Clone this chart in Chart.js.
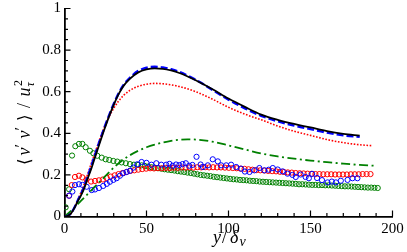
<!DOCTYPE html>
<html>
<head>
<meta charset="utf-8">
<script src="https://cdn.jsdelivr.net/npm/chart.js@4.4.0/dist/chart.umd.min.js"></script>
<style>
  html, body { margin: 0; padding: 0; background: #fff; }
  #wrap { width: 407px; height: 252px; }
</style>
</head>
<body>
<div id="wrap"><canvas id="c" width="407" height="252"></canvas></div>
<script>
// --- ticks ---
const xTicks = [0, 50, 100, 150, 200];
const xMinor = [10, 20, 30, 40, 60, 70, 80, 90, 110, 120, 130, 140, 160, 170, 180, 190];
const yTicks = [0, 0.2, 0.4, 0.6, 0.8, 1];
const yMinor = [0.05, 0.1, 0.15, 0.25, 0.3, 0.35, 0.45, 0.5, 0.55, 0.65, 0.7, 0.75, 0.85, 0.9, 0.95];

// --- lines ---
const blackX = [0, 2, 4, 6, 8, 10, 12, 14, 16, 18, 20, 22, 24, 26, 28, 30, 33, 36, 40, 45, 50, 55, 60, 65, 70, 80, 90, 100, 110, 120, 130, 140, 150, 160, 170, 180];
const blackY = [0, 0.003, 0.015, 0.04, 0.072, 0.1, 0.135, 0.18, 0.222, 0.27, 0.318, 0.366, 0.412, 0.456, 0.498, 0.537, 0.588, 0.628, 0.663, 0.693, 0.707, 0.712, 0.71, 0.702, 0.69, 0.655, 0.613, 0.567, 0.527, 0.49, 0.465, 0.445, 0.428, 0.41, 0.397, 0.389];

const blueX = [0, 2, 4, 6, 8, 10, 12, 14, 16, 18, 20, 22, 24, 26, 28, 30, 33, 36, 40, 45, 50, 55, 60, 65, 70, 80, 90, 100, 110, 120, 130, 140, 150, 160, 170, 180];
const blueY = [0, 0.003, 0.016, 0.042, 0.076, 0.108, 0.145, 0.19, 0.234, 0.282, 0.33, 0.376, 0.42, 0.463, 0.503, 0.541, 0.592, 0.632, 0.668, 0.7, 0.715, 0.72, 0.717, 0.708, 0.695, 0.657, 0.61, 0.562, 0.52, 0.484, 0.458, 0.437, 0.42, 0.403, 0.39, 0.383];

const redLineX = [0, 2, 4, 6, 8, 10, 12, 14, 16, 18, 20, 22, 24, 26, 28, 30, 33, 36, 40, 45, 50, 55, 60, 65, 70, 80, 90, 100, 110, 120, 130, 140, 150, 160, 170, 180, 188];
const redLineY = [0, 0.003, 0.015, 0.042, 0.078, 0.115, 0.155, 0.2, 0.247, 0.293, 0.338, 0.382, 0.423, 0.46, 0.492, 0.52, 0.555, 0.582, 0.607, 0.626, 0.636, 0.64, 0.638, 0.633, 0.625, 0.6, 0.565, 0.525, 0.492, 0.465, 0.435, 0.41, 0.39, 0.37, 0.355, 0.345, 0.34];

const greenLineX = [0, 5, 10, 15, 20, 25, 30, 35, 40, 45, 50, 55, 60, 65, 70, 75, 80, 90, 100, 110, 120, 130, 140, 150, 160, 170, 180, 190];
const greenLineY = [0, 0.035, 0.075, 0.115, 0.155, 0.195, 0.235, 0.268, 0.295, 0.316, 0.333, 0.346, 0.356, 0.364, 0.369, 0.371, 0.37, 0.36, 0.342, 0.322, 0.303, 0.289, 0.278, 0.269, 0.261, 0.254, 0.248, 0.244];

// --- circles ---
const greenDotX = [0.7, 2.8, 4.6, 6.6, 8.8, 10.9, 12.9, 15.5, 17.6, 20, 22.7, 25.1, 27.3, 29.8, 32.2, 34.8, 37.4, 39.9, 42.3, 44.9,
  47, 49, 51, 53, 55, 57, 59, 61, 63, 65, 67, 69, 71, 73, 75, 77, 79, 81, 83, 85, 87, 89, 91, 93, 95, 97, 99, 101, 103, 105,
  107, 109, 111, 113, 115, 117, 119, 121, 123, 125, 127, 129, 131, 133, 135, 137, 139, 141, 143, 145, 147, 149, 151, 153, 155,
  157, 159, 161, 163, 165, 167, 169, 171, 173, 175, 177, 179, 181, 183, 185, 187, 189, 191];
const greenDotY = [0.044, 0.131, 0.293, 0.338, 0.349, 0.349, 0.333, 0.316, 0.304, 0.292, 0.283, 0.275, 0.272, 0.267, 0.264, 0.26, 0.256, 0.252, 0.249, 0.248,
  0.246, 0.243, 0.24, 0.237, 0.235, 0.232, 0.23, 0.227, 0.225, 0.223, 0.221, 0.218, 0.216, 0.214, 0.211, 0.209, 0.206, 0.203, 0.2, 0.198,
  0.196, 0.194, 0.191, 0.189, 0.187, 0.185, 0.183, 0.181, 0.179, 0.178, 0.176, 0.175, 0.174, 0.172, 0.171, 0.17, 0.168, 0.167, 0.166, 0.165,
  0.164, 0.163, 0.162, 0.161, 0.16, 0.159, 0.158, 0.157, 0.155, 0.155, 0.154, 0.153, 0.152, 0.152, 0.151, 0.151, 0.15, 0.15, 0.149, 0.148,
  0.147, 0.146, 0.145, 0.145, 0.144, 0.143, 0.142, 0.141, 0.14, 0.139, 0.139, 0.138, 0.137];

const redDotX = [2.8, 4.4, 6.4, 8.8, 10.9, 13.4, 16.2, 18.6, 21, 23.4, 25.8, 28.2, 30.6, 33, 35.4, 37.8, 40.2, 42.6, 45, 47.4,
  49.8, 52.2, 54.6, 57, 59.4, 61.8, 64.2, 66.6, 69, 71.4, 73.8, 76.2, 78.6, 81, 83.4, 85.8, 88.2, 90.6, 93, 95.4,
  97.8, 100.2, 102.6, 105, 107.4, 109.8, 112.2, 114.6, 117, 119.4, 121.8, 124.2, 126.6, 129, 131.4, 133.8, 136.2, 138.6, 141, 143.4,
  145.8, 148.2, 150.6, 153, 155.4, 157.8, 160.2, 162.6, 165, 167.4, 169.8, 172.2, 174.6, 177, 179.4, 181.8, 184.2, 186.6];
const redDotY = [0.1, 0.151, 0.19, 0.196, 0.188, 0.178, 0.168, 0.171, 0.174, 0.178, 0.185, 0.192, 0.198, 0.204, 0.209, 0.214, 0.219, 0.222, 0.225, 0.228,
  0.23, 0.232, 0.231, 0.233, 0.232, 0.234, 0.233, 0.235, 0.234, 0.236, 0.235, 0.236, 0.235, 0.237, 0.236, 0.237, 0.236, 0.237, 0.236, 0.236,
  0.235, 0.234, 0.233, 0.232, 0.23, 0.229, 0.227, 0.225, 0.223, 0.222, 0.221, 0.219, 0.218, 0.217, 0.215, 0.214, 0.212, 0.211, 0.209, 0.208,
  0.207, 0.206, 0.205, 0.204, 0.204, 0.203, 0.203, 0.203, 0.202, 0.202, 0.202, 0.202, 0.203, 0.203, 0.203, 0.204, 0.204, 0.204];

const blueDotX = [2.8, 4.8, 6.4, 8.8, 10.9, 13.5, 16.6, 18.6, 21, 23.6, 25.8, 27.7, 29.8, 31.8, 33.8, 35.8, 37.9, 39.9, 42, 44.4,
  47, 50, 53, 56, 59, 62, 64, 66, 68, 70, 72, 74, 76, 78, 80.5, 83, 84.4, 87.4, 90.4, 93.5,
  95.5, 98.6, 101.6, 104.7, 107.7, 110, 112.8, 115.8, 118.8, 121.9, 124.5, 127, 130, 133, 136, 139, 141, 144, 147, 149,
  151, 154, 157, 160.4, 163, 165.5, 168.5, 172.6, 175.6, 178.6];
const blueDotY = [0.1, 0.12, 0.151, 0.155, 0.152, 0.143, 0.127, 0.13, 0.137, 0.147, 0.157, 0.167, 0.176, 0.184, 0.196, 0.208, 0.214, 0.22, 0.235, 0.251,
  0.262, 0.258, 0.249, 0.256, 0.249, 0.249, 0.253, 0.244, 0.25, 0.247, 0.252, 0.256, 0.244, 0.248, 0.287, 0.25, 0.238, 0.246, 0.275, 0.265,
  0.246, 0.246, 0.249, 0.238, 0.23, 0.216, 0.214, 0.222, 0.233, 0.222, 0.225, 0.233, 0.226, 0.217, 0.206, 0.2, 0.19, 0.202, 0.19, 0.184,
  0.205, 0.185, 0.175, 0.164, 0.168, 0.164, 0.172, 0.176, 0.184, 0.184];

const pts = (xs, ys) => xs.map((x, i) => ({ x: x, y: ys[i] }));
const serif = '"Liberation Serif", "DejaVu Serif", serif';

const lineSet = (data, color, width, dash, order) => ({
    data: data, showLine: true, borderColor: color, borderWidth: width, borderDash: dash,
    pointRadius: 0, cubicInterpolationMode: 'monotone', fill: false, order: order
});
const dotSet = (data, color, order) => ({
    data: data, showLine: false, borderColor: color, backgroundColor: 'rgba(0,0,0,0)',
    pointRadius: 2.6, pointBorderWidth: 1, pointStyle: 'circle', order: order
});

// tick marks pointing inward and the two axis titles
const axisDecor = {
    id: 'axisDecor',
    afterDraw(chart) {
        const { ctx } = chart;
        const xs = chart.scales.x, ys = chart.scales.y;
        ctx.save();
        ctx.strokeStyle = '#000';
        ctx.lineWidth = 1.2;
        ctx.beginPath();
        xTicks.forEach(v => { const p = xs.getPixelForValue(v); ctx.moveTo(p, ys.bottom); ctx.lineTo(p, ys.bottom - 6); });
        xMinor.forEach(v => { const p = xs.getPixelForValue(v); ctx.moveTo(p, ys.bottom); ctx.lineTo(p, ys.bottom - 3.5); });
        yTicks.forEach(v => { const p = ys.getPixelForValue(v); ctx.moveTo(xs.left, p); ctx.lineTo(xs.left + 6, p); });
        yMinor.forEach(v => { const p = ys.getPixelForValue(v); ctx.moveTo(xs.left, p); ctx.lineTo(xs.left + 3.5, p); });
        ctx.stroke();

        ctx.fillStyle = '#000';
        ctx.textBaseline = 'alphabetic';
        ctx.textAlign = 'left';
        const it = s => 'italic ' + s + 'px ' + serif;
        const rm = s => s + 'px ' + serif;
        const put = parts => parts.forEach(([t, f, x, y]) => { ctx.font = f; ctx.fillText(t, x, y); });

        // x title: y / delta_nu
        put([
            ['y', it(18), 213, 242.5], ['/', rm(18), 222, 242.5],
            ['\u03b4', it(18), 230, 242.5], ['\u03bd', it(14), 239.5, 246]
        ]);

        // y title, rotated (reads bottom to top)
        ctx.translate(30, 165);
        ctx.rotate(-Math.PI / 2);
        put([
            ['\u27e8', rm(17), 0, 0], ['v', it(18), 9.5, 0], ['\u2032', rm(16), 17.5, -4],
            ['v', it(18), 26.5, 0], ['\u2032', rm(16), 34.5, -4], ['\u27e9', rm(17), 44, 0],
            ['/', rm(18), 57, 0], ['u', it(18), 68.5, 0],
            ['2', rm(12), 79, -8], ['\u03c4', it(12), 78.5, 4]
        ]);
        ctx.restore();
    }
};

new Chart(document.getElementById('c'), {
    type: 'scatter',
    data: {
        datasets: [
            lineSet(pts(blackX, blackY), '#000000', 1.8, [], 0),
            lineSet(pts(blueX, blueY), '#0000ff', 2.4, [7, 3], 1),
            lineSet(pts(redLineX, redLineY), '#ff0000', 1.6, [1.6, 1.6], 2),
            lineSet(pts(greenLineX, greenLineY), '#008000', 1.8, [9, 3.5, 2, 3.5], 3),
            dotSet(pts(blueDotX, blueDotY), '#0000ff', 4),
            dotSet(pts(redDotX, redDotY), '#ff0000', 5),
            dotSet(pts(greenDotX, greenDotY), '#008000', 6)
        ]
    },
    options: {
        responsive: false,
        animation: false,
        events: [],
        layout: { padding: { top: 8.5, right: 14.5, left: 0, bottom: 0 } },
        plugins: { legend: { display: false }, tooltip: { enabled: false } },
        scales: {
            x: {
                type: 'linear', min: 0, max: 200,
                afterBuildTicks: s => { s.ticks = xTicks.map(v => ({ value: v })); },
                afterFit: s => { s.height = 35.5; s.paddingLeft = 0; s.paddingRight = 0; },
                grid: { display: false, drawTicks: false },
                border: { display: true, color: '#000', width: 1.8 },
                ticks: { color: '#000', padding: 4, maxRotation: 0, font: { family: serif, size: 15 } }
            },
            y: {
                type: 'linear', min: 0, max: 1,
                afterBuildTicks: s => { s.ticks = yTicks.map(v => ({ value: v })); },
                afterFit: s => { s.width = 64.5; s.paddingTop = 0; s.paddingBottom = 0; },
                grid: { display: false, drawTicks: false },
                border: { display: true, color: '#000', width: 1.8 },
                ticks: { color: '#000', padding: 3.5, font: { family: serif, size: 15 }, callback: v => String(v) }
            }
        }
    },
    plugins: [axisDecor]
});
</script>
</body>
</html>
